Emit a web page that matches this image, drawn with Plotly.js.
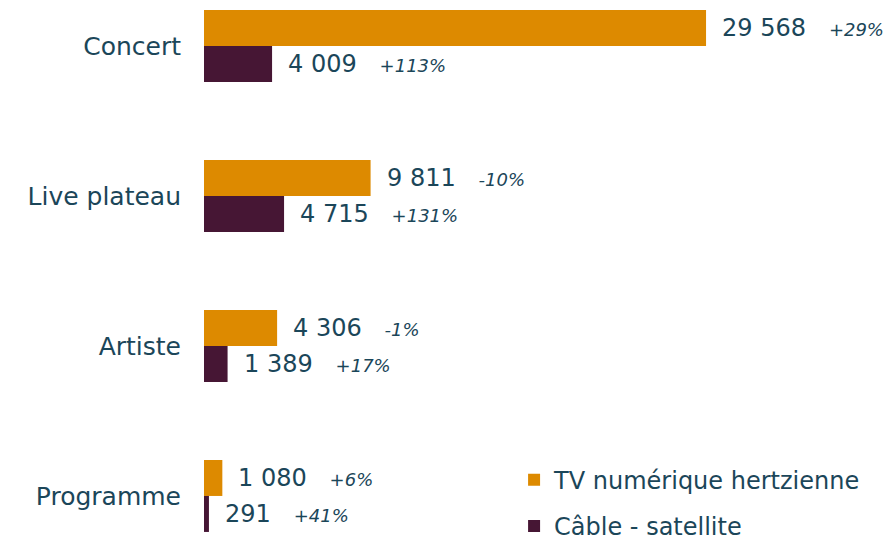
<!DOCTYPE html>
<html>
<head>
<meta charset="utf-8">
<script src="https://cdn.plot.ly/plotly-3.0.1.min.js"></script>
<style>
  html, body { margin: 0; padding: 0; background: #fff; }
  #chart { width: 887px; height: 548px; }
</style>
</head>
<body>
<div id="chart"></div>
<script>
var categories = ['Concert', 'Live plateau', 'Artiste', 'Programme'];

var tvValues = [29568, 9811, 4306, 1080];
var tvChange = ['+29%', '-10%', '-1%', '+6%'];

var cableValues = [4009, 4715, 1389, 291];
var cableChange = ['+113%', '+131%', '+17%', '+41%'];

var textColor = '#1b4659';
var fontFamily = '"DejaVu Sans", "Open Sans", sans-serif';

function fmt(v) {
    return String(v).replace(/\B(?=(\d{3})+(?!\d))/g, ' ');
}

var trace1 = {
    y: categories,
    x: tvValues,
    type: 'bar',
    orientation: 'h',
    name: 'TV numérique hertzienne',
    legendgroup: 'tv',
    marker: { color: '#dd8a00' },
    hoverinfo: 'none'
};

var trace2 = {
    y: categories,
    x: cableValues,
    type: 'bar',
    orientation: 'h',
    name: 'Câble - satellite',
    legendgroup: 'cable',
    marker: { color: '#461634' },
    hoverinfo: 'none'
};

// labels: value then variation in italics
var annotations = [];
function addLabels(values, changes, shift) {
    for (var i = 0; i < categories.length; i++) {
        annotations.push({
            x: values[i],
            y: categories[i],
            xref: 'x',
            yref: 'y',
            xanchor: 'left',
            yanchor: 'middle',
            xshift: 14,
            yshift: shift,
            showarrow: false,
            text: fmt(values[i]) + '&nbsp;&nbsp;&nbsp;' +
                '<i><span style="font-size:18px">' + changes[i] + '</span></i>',
            font: { size: 24, color: textColor, family: fontFamily }
        });
    }
}
addLabels(tvValues, tvChange, 18);
addLabels(cableValues, cableChange, -18);

var layout = {
    width: 887,
    height: 548,
    margin: { l: 204, r: 0, t: 0, b: 0, autoexpand: false },
    paper_bgcolor: '#ffffff',
    plot_bgcolor: '#ffffff',
    barmode: 'group',
    bargap: 0.52,
    bargroupgap: 0,
    font: { family: fontFamily, color: textColor },
    xaxis: {
        range: [0, 40225],
        visible: false,
        fixedrange: true
    },
    yaxis: {
        type: 'category',
        range: [3.347, -0.307],
        showgrid: false,
        zeroline: false,
        showline: false,
        ticks: '',
        ticklabelstandoff: 22,
        tickfont: { size: 25, color: textColor, family: fontFamily },
        fixedrange: true
    },
    showlegend: true,
    legend: {
        x: 0.454,
        y: 0.165,
        xanchor: 'left',
        yanchor: 'top',
        traceorder: 'grouped',
        tracegroupgap: 12,
        bgcolor: 'rgba(0,0,0,0)',
        font: { size: 24, color: textColor, family: fontFamily }
    },
    annotations: annotations
};

Plotly.newPlot('chart', [trace1, trace2], layout, { displayModeBar: false, staticPlot: true });
</script>
</body>
</html>
